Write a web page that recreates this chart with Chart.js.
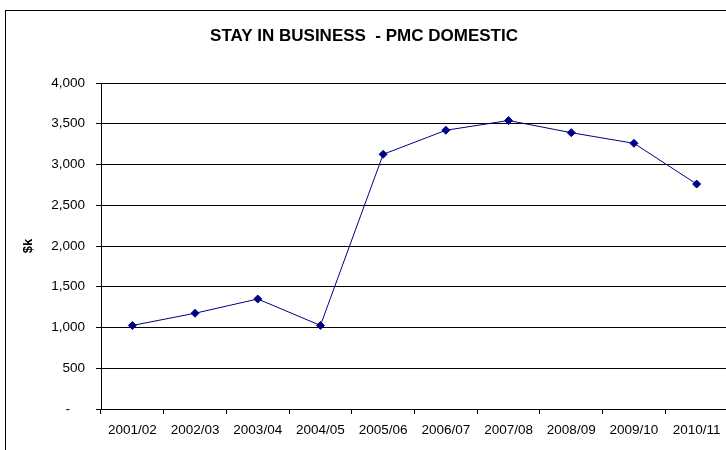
<!DOCTYPE html>
<html>
<head>
<meta charset="utf-8">
<script src="https://cdn.jsdelivr.net/npm/chart.js@4.4.1/dist/chart.umd.min.js"></script>
<style>
    html, body { margin: 0; padding: 0; background: #fff; overflow: hidden; }
    #wrap { position: absolute; left: 0; top: 0; width: 741px; height: 450px; }
    #frame { position: absolute; left: 5px; top: 10px; width: 800px; height: 500px;
             border-top: 1px solid #000; border-left: 1px solid #000; }
</style>
</head>
<body>
<div id="frame"></div>
<div id="wrap"><canvas id="chart" width="741" height="450"></canvas></div>
<script>
// chart data
var categories = ['2001/02', '2002/03', '2003/04', '2004/05', '2005/06', '2006/07', '2007/08', '2008/09', '2009/10', '2010/11'];
var spend_values = [1025, 1175, 1350, 1025, 3125, 3420, 3540, 3390, 3260, 2760];
var y_tick_values = [0, 500, 1000, 1500, 2000, 2500, 3000, 3500, 4000];
var y_tick_labels = ['-    ', '500', '1,000', '1,500', '2,000', '2,500', '3,000', '3,500', '4,000'];

var font_family = "'Liberation Sans', Arial, sans-serif";
Chart.defaults.font.family = font_family;
Chart.defaults.color = '#000';

var ctx = document.getElementById('chart');
var chart = new Chart(ctx, {
    type: 'line',
    data: {
        labels: categories,
        datasets: [{
            data: spend_values,
            borderColor: '#000080',
            backgroundColor: '#000080',
            borderWidth: 1,
            pointStyle: 'rectRot',
            pointRadius: 4,
            pointBackgroundColor: '#000080',
            pointBorderColor: '#000080',
            tension: 0,
        }]
    },
    options: {
        responsive: false,
        animation: false,
        layout: {
            padding: { left: 0, right: 13, top: 0, bottom: 0 }
        },
        plugins: {
            legend: { display: false },
            tooltip: { enabled: false },
            title: {
                display: true,
                text: 'STAY IN BUSINESS  - PMC DOMESTIC',
                font: { size: 17, weight: 'bold' },
                color: '#000',
                padding: { top: 26, bottom: 36.6 },
            },
        },
        scales: {
            x: {
                offset: true,
                grid: {
                    offset: true,
                    drawOnChartArea: false,
                    drawTicks: true,
                    tickLength: 5,
                    color: '#000',
                },
                border: { color: '#000', width: 1 },
                ticks: {
                    font: { size: 13.5 },
                    padding: 8,
                    maxRotation: 0,
                    autoSkip: false,
                },
                afterFit: function (scale) { scale.height = 41; },
            },
            y: {
                min: 0,
                max: 4000,
                afterBuildTicks: function (scale) {
                    scale.ticks = y_tick_values.map(function (v) { return { value: v }; });
                },
                grid: {
                    color: '#000',
                    drawTicks: true,
                    tickLength: 5,
                },
                border: { color: '#000', width: 1 },
                ticks: {
                    font: { size: 13.5 },
                    padding: 11,
                    callback: function (value) {
                        return y_tick_labels[y_tick_values.indexOf(value)];
                    },
                },
                title: {
                    display: true,
                    text: '$k',
                    font: { size: 13, weight: 'bold' },
                    padding: { top: 21, bottom: 0 },
                },
                afterFit: function (scale) { scale.width = 101; },
            }
        }
    }
});
</script>
</body>
</html>
